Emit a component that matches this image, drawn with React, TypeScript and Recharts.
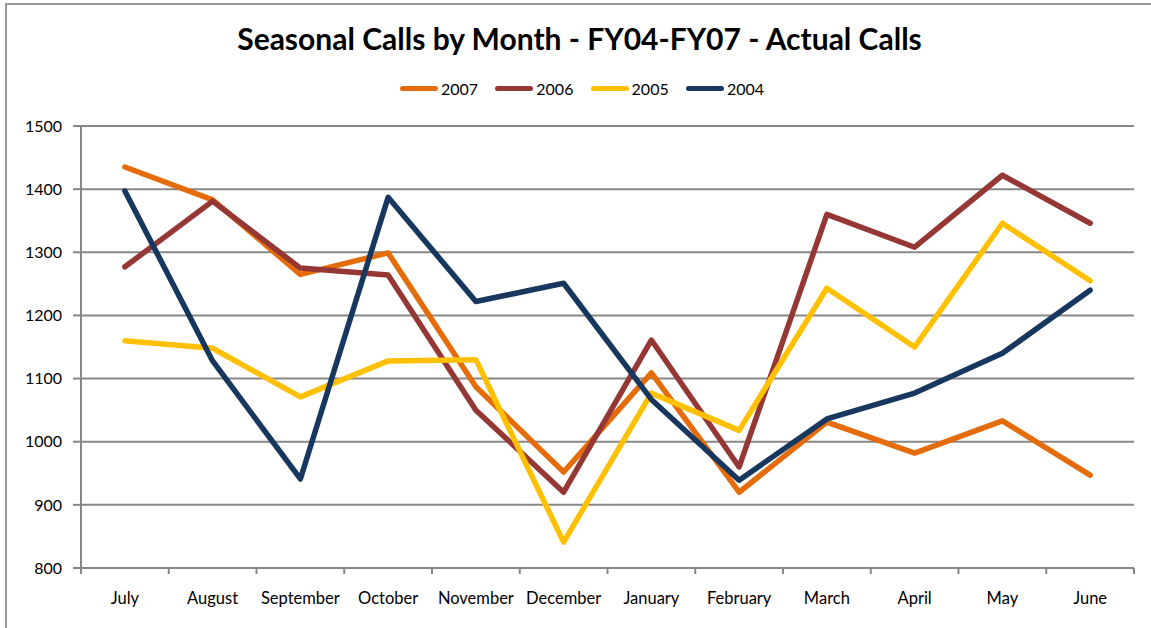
import { LineChart, Line, XAxis, YAxis, CartesianGrid } from "recharts"

const months = ["July", "August", "September", "October", "November", "December", "January", "February", "March", "April", "May", "June"]
const calls2007 = [1435, 1383, 1265, 1299, 1087, 952, 1109, 920, 1031, 982, 1033, 947]
const calls2006 = [1277, 1381, 1275, 1264, 1050, 920, 1161, 960, 1360, 1308, 1422, 1346]
const calls2005 = [1160, 1148, 1071, 1128, 1130, 841, 1077, 1018, 1243, 1150, 1346, 1255]
const calls2004 = [1397, 1128, 941, 1387, 1222, 1251, 1067, 939, 1036, 1077, 1140, 1240]
const yTicks = [800, 900, 1000, 1100, 1200, 1300, 1400, 1500]

const series = [
  { key: "y2007", name: "2007", color: "#E46C0A", values: calls2007 },
  { key: "y2006", name: "2006", color: "#953735", values: calls2006 },
  { key: "y2005", name: "2005", color: "#FFC000", values: calls2005 },
  { key: "y2004", name: "2004", color: "#17375E", values: calls2004 },
]

const W = 1151
const H = 628
const PLOT_TOP = 126
const PLOT_LEFT = 81
const PLOT_RIGHT = 1134
const X_AXIS_H = 60
const PLOT_BOTTOM = H - X_AXIS_H
const BAND = (PLOT_RIGHT - PLOT_LEFT) / months.length
const GRAY = "#878787"
const FONT = "Lato, 'Open Sans', sans-serif"

const data = months.map((m, i) => {
  const row: Record<string, string | number> = { month: m }
  series.forEach((s) => (row[s.key] = s.values[i]))
  return row
})

function MonthTick(props: any) {
  const { x, payload, index } = props
  const half = BAND / 2
  return (
    <g>
      <line x1={x - half} x2={x - half} y1={PLOT_BOTTOM} y2={PLOT_BOTTOM + 6} stroke={GRAY} strokeWidth={2} />
      {index === months.length - 1 && (
        <line x1={x + half} x2={x + half} y1={PLOT_BOTTOM} y2={PLOT_BOTTOM + 6} stroke={GRAY} strokeWidth={2} />
      )}
      <text x={x} y={PLOT_BOTTOM + 30} textAnchor="middle" dominantBaseline="central" fontSize={16.5} fill="#000" fontFamily={FONT}>
        {payload.value}
      </text>
    </g>
  )
}

export default function App() {
  return (
    <div style={{ position: "absolute", left: 0, top: 0, width: W, height: H, overflow: "hidden", background: "#fff", fontFamily: FONT }}>
      <div style={{ position: "absolute", left: 5, top: 3, width: W + 50, height: H + 50, border: "2px solid #9a9a9a" }} />
      <div style={{ position: "absolute", left: 4, top: 20, width: W, textAlign: "center", fontSize: 30, fontWeight: 700, color: "#000" }}>
        Seasonal Calls by Month - FY04-FY07 - Actual Calls
      </div>
      <div style={{ position: "absolute", left: 400, top: 78, display: "flex" }}>
        {series.map((s) => (
          <div key={s.key} style={{ width: 95.3, display: "flex", alignItems: "center", height: 20 }}>
            <div style={{ width: 38, height: 5, borderRadius: 3, background: s.color, marginRight: 3 }} />
            <span style={{ fontSize: 16, color: "#000" }}>{s.name}</span>
          </div>
        ))}
      </div>
      <LineChart width={W} height={H} data={data} margin={{ top: PLOT_TOP, right: W - PLOT_RIGHT, bottom: 0, left: 0 }} style={{ position: "absolute", left: 0, top: 0 }}>
        <CartesianGrid vertical={false} stroke={GRAY} strokeWidth={2} />
        <XAxis
          dataKey="month"
          scale="band"
          height={X_AXIS_H}
          interval={0}
          axisLine={{ stroke: GRAY, strokeWidth: 2 }}
          tickLine={false}
          tick={<MonthTick />}
        />
        <YAxis
          width={PLOT_LEFT}
          domain={[800, 1500]}
          ticks={yTicks}
          interval={0}
          tickSize={8}
          tickMargin={11}
          axisLine={{ stroke: GRAY, strokeWidth: 2 }}
          tickLine={{ stroke: GRAY, strokeWidth: 2 }}
          tick={{ fontSize: 16, fill: "#000", fontFamily: FONT }}
        />
        {series.map((s) => (
          <Line
            key={s.key}
            dataKey={s.key}
            name={s.name}
            type="linear"
            stroke={s.color}
            strokeWidth={5.5}
            strokeLinejoin="round"
            strokeLinecap="round"
            dot={false}
            activeDot={false}
            isAnimationActive={false}
          />
        ))}
      </LineChart>
    </div>
  )
}
